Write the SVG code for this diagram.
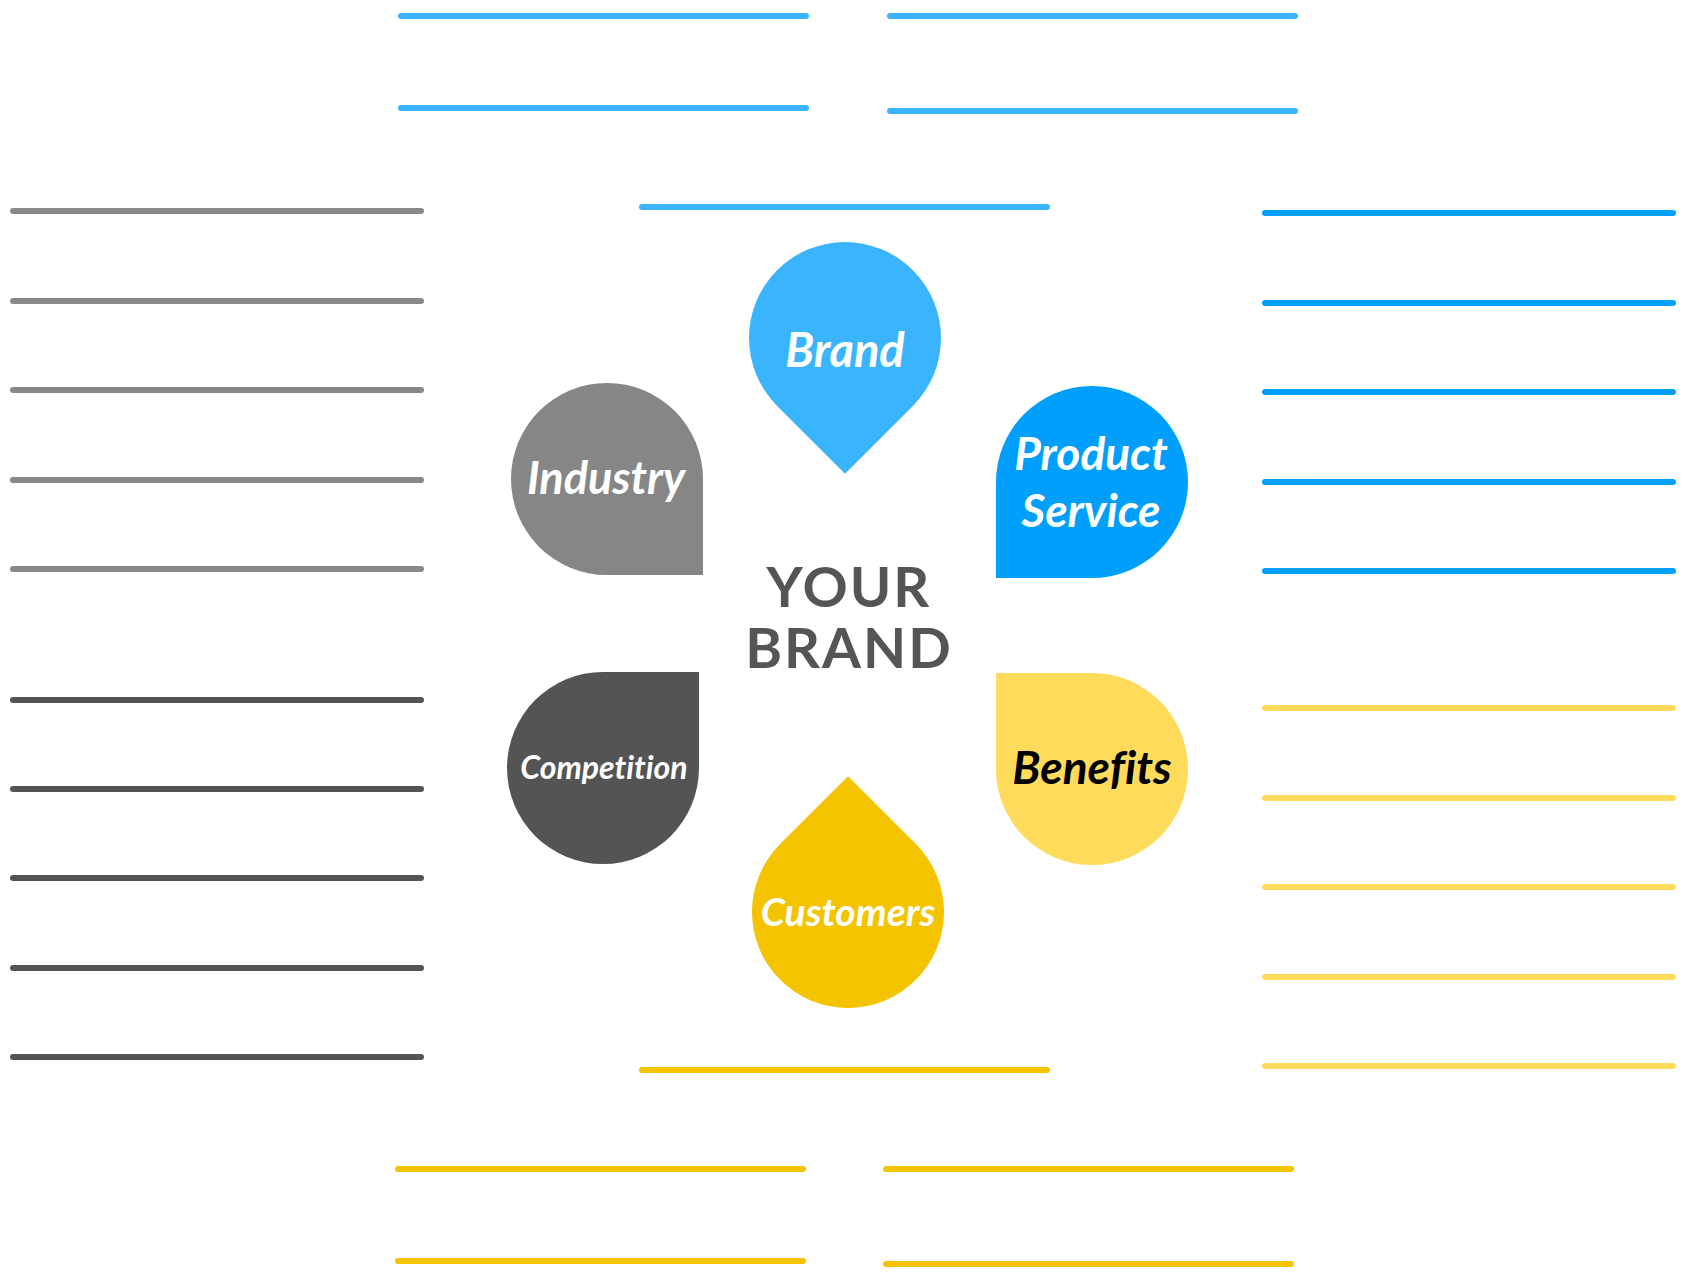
<svg xmlns="http://www.w3.org/2000/svg" width="1690" height="1274" viewBox="0 0 1690 1274">
  <style>
    .ln { stroke-width: 6; stroke-linecap: round; fill: none; }
    .sky { stroke: #3AB5FD; }
    .blue { stroke: #009FFB; }
    .gray { stroke: #888888; }
    .dark { stroke: #545454; }
    .lemon { stroke: #FFDB5C; }
    .gold { stroke: #F5C400; }
    .lbl { font-family: Lato, "Open Sans", "Liberation Sans", sans-serif; font-weight: 700; font-style: italic; text-anchor: middle; font-variant-ligatures: none; }
    .hub { font-family: Lato, "Open Sans", "Liberation Sans", sans-serif; font-weight: 700; text-anchor: middle; fill: #555555; font-size: 56px; letter-spacing: 2px; }
  </style>

  <!-- writing lines around the petals -->
  <g id="connectors">
    <!-- top -->
    <line class="ln sky" x1="401" y1="16" x2="806" y2="16"/>
    <line class="ln sky" x1="890" y1="16" x2="1295" y2="16"/>
    <line class="ln sky" x1="401" y1="108" x2="806" y2="108"/>
    <line class="ln sky" x1="890" y1="111" x2="1295" y2="111"/>
    <line class="ln sky" x1="642" y1="207" x2="1047" y2="207"/>
    <!-- left, upper -->
    <line class="ln gray" x1="13" y1="211" x2="421" y2="211"/>
    <line class="ln gray" x1="13" y1="301" x2="421" y2="301"/>
    <line class="ln gray" x1="13" y1="390" x2="421" y2="390"/>
    <line class="ln gray" x1="13" y1="480" x2="421" y2="480"/>
    <line class="ln gray" x1="13" y1="569" x2="421" y2="569"/>
    <!-- left, lower -->
    <line class="ln dark" x1="13" y1="700" x2="421" y2="700"/>
    <line class="ln dark" x1="13" y1="789" x2="421" y2="789"/>
    <line class="ln dark" x1="13" y1="878" x2="421" y2="878"/>
    <line class="ln dark" x1="13" y1="968" x2="421" y2="968"/>
    <line class="ln dark" x1="13" y1="1057" x2="421" y2="1057"/>
    <!-- right, upper -->
    <line class="ln blue" x1="1265" y1="213" x2="1673" y2="213"/>
    <line class="ln blue" x1="1265" y1="303" x2="1673" y2="303"/>
    <line class="ln blue" x1="1265" y1="392" x2="1673" y2="392"/>
    <line class="ln blue" x1="1265" y1="482" x2="1673" y2="482"/>
    <line class="ln blue" x1="1265" y1="571" x2="1673" y2="571"/>
    <!-- right, lower -->
    <line class="ln lemon" x1="1265" y1="708" x2="1673" y2="708"/>
    <line class="ln lemon" x1="1265" y1="798" x2="1673" y2="798"/>
    <line class="ln lemon" x1="1265" y1="887" x2="1673" y2="887"/>
    <line class="ln lemon" x1="1265" y1="977" x2="1673" y2="977"/>
    <line class="ln lemon" x1="1265" y1="1066" x2="1673" y2="1066"/>
    <!-- bottom -->
    <line class="ln gold" x1="642" y1="1070" x2="1047" y2="1070"/>
    <line class="ln gold" x1="398" y1="1169" x2="803" y2="1169"/>
    <line class="ln gold" x1="886" y1="1169" x2="1291" y2="1169"/>
    <line class="ln gold" x1="398" y1="1261" x2="803" y2="1261"/>
    <line class="ln gold" x1="886" y1="1264" x2="1291" y2="1264"/>
  </g>

  <g id="brand">
    <path d="M 845 473.8 L 777.1 405.9 A 96 96 0 1 1 912.9 405.9 Z" fill="#3AB5FD"/>
    <text class="lbl" x="845" y="367" font-size="47" fill="#FFFFFF">Brand</text>
  </g>

  <g id="industry">
    <path d="M 703 575 L 607 575 A 96 96 0 0 1 511 479 A 96 96 0 0 1 607 383 A 96 96 0 0 1 703 479 Z" fill="#868686"/>
    <text class="lbl" x="606" y="494" font-size="45" fill="#FFFFFF">Industry</text>
  </g>

  <g id="product-service">
    <path d="M 996 578 L 996 482 A 96 96 0 0 1 1092 386 A 96 96 0 0 1 1188 482 A 96 96 0 0 1 1092 578 Z" fill="#009FFB"/>
    <text class="lbl" x="1091" y="470" font-size="46" fill="#FFFFFF">Product</text>
    <text class="lbl" x="1091" y="527" font-size="46" fill="#FFFFFF">Service</text>
  </g>

  <g id="competition">
    <path d="M 699 672 L 699 768 A 96 96 0 0 1 603 864 A 96 96 0 0 1 507 768 A 96 96 0 0 1 603 672 Z" fill="#545454"/>
    <text class="lbl" x="604" y="779" font-size="32" fill="#FFFFFF">Competition</text>
  </g>

  <g id="benefits">
    <path d="M 996 673 L 1092 673 A 96 96 0 0 1 1188 769 A 96 96 0 0 1 1092 865 A 96 96 0 0 1 996 769 Z" fill="#FFDB5C"/>
    <text class="lbl" x="1092" y="784" font-size="46" fill="#000000">Benefits</text>
  </g>

  <g id="customers">
    <path d="M 848 776.2 L 915.9 844.1 A 96 96 0 1 1 780.1 844.1 Z" fill="#F5C400"/>
    <text class="lbl" x="848" y="926" font-size="39" fill="#FFFFFF">Customers</text>
  </g>

  <g id="your-brand">
    <text class="hub" x="849" y="607">YOUR</text>
    <text class="hub" x="849" y="668">BRAND</text>
  </g>
</svg>
